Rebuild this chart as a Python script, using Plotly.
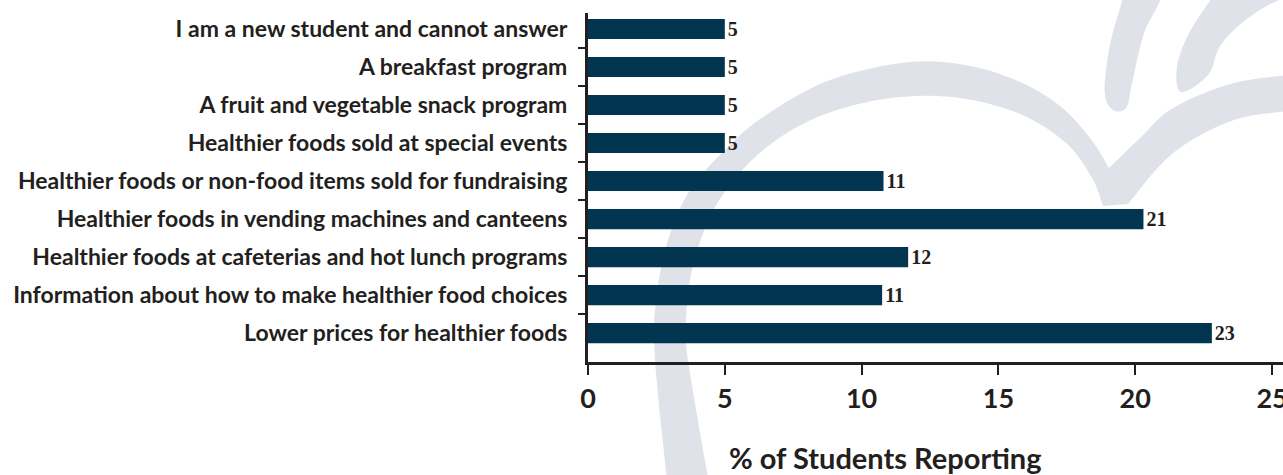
import base64
import plotly.graph_objects as go

# ---------------- data ----------------
categories = [
    "I am a new student and cannot answer",
    "A breakfast program",
    "A fruit and vegetable snack program",
    "Healthier foods sold at special events",
    "Healthier foods or non-food items sold for fundraising",
    "Healthier foods in vending machines and canteens",
    "Healthier foods at cafeterias and hot lunch programs",
    "Information about how to make healthier food choices",
    "Lower prices for healthier foods",
]
values = [5.0, 5.0, 5.0, 5.0, 10.8, 20.3, 11.7, 10.75, 22.8]
value_labels = ["5", "5", "5", "5", "11", "21", "12", "11", "23"]
x_ticks = [0, 5, 10, 15, 20, 25]
x_title = "% of Students Reporting"

# ---------------- layout constants ----------------
W, H = 1283, 475
ML, MR, MT, MB = 588, 0, 13, 113
PW, PH = W - ML - MR, H - MT - MB
TEXT = "#231f20"
BAR = "#02354f"
WM = "#dfe2e8"


# ---------------- watermark (decorative apple outline) ----------------
def catmull(pts, steps=8):
    out = []
    n = len(pts)
    for i in range(n - 1):
        p0 = pts[i - 1] if i > 0 else pts[i]
        p1, p2 = pts[i], pts[i + 1]
        p3 = pts[i + 2] if i + 2 < n else p2
        for k in range(steps):
            t = k / steps
            t2, t3 = t * t, t * t * t
            x = 0.5 * ((2 * p1[0]) + (-p0[0] + p2[0]) * t +
                       (2 * p0[0] - 5 * p1[0] + 4 * p2[0] - p3[0]) * t2 +
                       (-p0[0] + 3 * p1[0] - 3 * p2[0] + p3[0]) * t3)
            y = 0.5 * ((2 * p1[1]) + (-p0[1] + p2[1]) * t +
                       (2 * p0[1] - 5 * p1[1] + 4 * p2[1] - p3[1]) * t2 +
                       (-p0[1] + 3 * p1[1] - 3 * p2[1] + p3[1]) * t3)
            out.append((x, y))
    out.append(pts[-1])
    return out


def poly_path(pts):
    return "M" + " L".join("%.1f,%.1f" % p for p in pts) + " Z"


outer = [(668, 490), (655, 360), (656, 300), (668, 240), (690, 190), (725, 150),
         (763, 117), (830, 80), (910, 62), (970, 66), (1020, 82), (1060, 106),
         (1090, 138), (1109, 168)]
lobe_top = [(1109, 168), (1140, 138), (1173, 108), (1234, 83), (1300, 74)]
lobe_bot = [(1300, 110), (1234, 120), (1173, 153), (1128, 204)]
inner = [(1103, 206), (1092, 178), (1066, 143), (1020, 114), (960, 98), (900, 97),
         (840, 109), (790, 131), (746, 166), (713, 211), (693, 266), (686, 320),
         (688, 360), (710, 490)]
stem = [(1124, -5), (1160, -5), (1144, 33), (1132, 83), (1128, 104), (1122, 111),
        (1113, 110), (1106, 100), (1105, 80), (1111, 40), (1124, -5)]
leaf = [(1214, -5), (1189, 33), (1177, 67), (1181, 92), (1208, 75), (1222, 43),
        (1255, 13), (1290, -5)]

apple = catmull(outer) + catmull(lobe_top) + catmull(lobe_bot) + catmull(inner)
svg = (
    '<svg xmlns="http://www.w3.org/2000/svg" width="%d" height="%d" viewBox="0 0 %d %d">'
    '<path d="%s" fill="%s"/><path d="%s" fill="%s"/><path d="%s" fill="%s"/>'
    '</svg>'
) % (W, H, W, H, poly_path(apple), WM, poly_path(catmull(stem)), WM,
     poly_path(catmull(leaf)), WM)
svg_uri = "data:image/svg+xml;base64," + base64.b64encode(svg.encode()).decode()

# ---------------- figure ----------------
fig = go.Figure()
fig.add_trace(go.Bar(
    x=values,
    y=categories,
    orientation="h",
    marker=dict(color=BAR, line=dict(width=0)),
    text=value_labels,
    textposition="outside",
    constraintext="none",
    textfont=dict(family="Liberation Serif", size=20, color=TEXT, weight="bold"),
    cliponaxis=False,
    hoverinfo="skip",
))

fig.update_layout(
    width=W, height=H,
    margin=dict(l=ML, r=MR, t=MT, b=MB, autoexpand=False),
    paper_bgcolor="white",
    plot_bgcolor="rgba(0,0,0,0)",
    showlegend=False,
    bargap=0.47,
    font=dict(family="Lato", color=TEXT),
    images=[dict(
        source=svg_uri, xref="paper", yref="paper",
        x=-ML / PW, y=1 + MT / PH, sizex=W / PW, sizey=H / PH,
        xanchor="left", yanchor="top", sizing="stretch", layer="below",
    )],
    xaxis=dict(
        range=[0, 25.4], tickmode="array", tickvals=x_ticks,
        ticktext=[str(t) for t in x_ticks],
        showgrid=False, zeroline=False,
        showline=True, linewidth=3, linecolor=TEXT,
        ticks="outside", ticklen=10, tickwidth=2, tickcolor=TEXT,
        tickfont=dict(family="Lato", size=27, color=TEXT, weight="bold"),
        ticklabelstandoff=1,
        ticklabeloverflow="allow",
        fixedrange=True,
    ),
    yaxis=dict(
        type="category", categoryorder="array", categoryarray=categories,
        range=[8.76, -0.42],
        showgrid=False, zeroline=False,
        showline=True, linewidth=3, linecolor=TEXT,
        ticks="outside", ticklen=7, tickwidth=2, tickcolor=TEXT,
        tickson="boundaries",
        tickfont=dict(family="Lato", size=23, color=TEXT, weight="bold"),
        ticklabelstandoff=13,
        fixedrange=True,
    ),
    annotations=[dict(
        text=x_title, xref="paper", yref="paper",
        x=(885 - ML) / PW, y=(H - MB - 457) / PH,
        xanchor="center", yanchor="middle", showarrow=False,
        font=dict(family="Lato", size=29, color=TEXT, weight="bold"),
    )],
)

fig.write_html("out.html")
